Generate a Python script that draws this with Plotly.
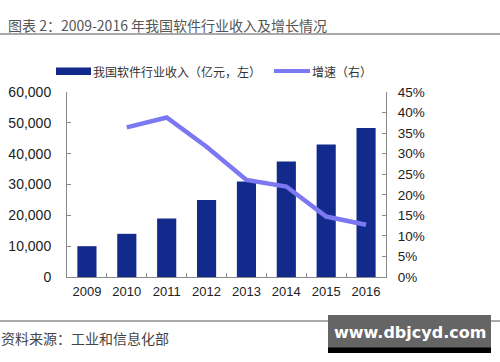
import plotly.graph_objects as go

years = ["2009", "2010", "2011", "2012", "2013", "2014", "2015", "2016"]
revenue = [10000, 14000, 19000, 25000, 31000, 37500, 43000, 48300]
growth_years = ["2010", "2011", "2012", "2013", "2014", "2015", "2016"]
growth = [36.4, 38.8, 31.7, 23.6, 22.0, 14.7, 12.7]
left_ticks = [0, 10000, 20000, 30000, 40000, 50000, 60000]
left_tick_text = ["0", "10,000", "20,000", "30,000", "40,000", "50,000", "60,000"]
right_ticks = [0, 5, 10, 15, 20, 25, 30, 35, 40, 45]
right_tick_text = ["0%", "5%", "10%", "15%", "20%", "25%", "30%", "35%", "40%", "45%"]

title = "图表 2：2009-2016 年我国软件行业收入及增长情况"
legend_bar = "我国软件行业收入（亿元，左）"
legend_line = "增速（右）"
source = "资料来源：工业和信息化部"
watermark = "www.dbjcyd.com"

BAR = "#112a8c"
LINE = "#7b78f2"
AX = "#8a8a8a"
TXT = "#222222"
cjk = "Noto Sans CJK SC"
num_family = "Liberation Sans, Arial"

fig = go.Figure()
fig.add_trace(go.Bar(x=years, y=revenue, marker=dict(color=BAR, line=dict(width=0)),
                     width=0.48, yaxis="y", showlegend=False))
fig.add_trace(go.Scatter(x=growth_years, y=growth, mode="lines",
                         line=dict(color=LINE, width=4.5), yaxis="y2", showlegend=False))

W, H = 500, 362
L, R, T, B = 67, 386, 92, 277

fig.update_layout(
    width=W, height=H,
    margin=dict(l=L, r=W - R, t=T, b=H - B, pad=0, autoexpand=False),
    paper_bgcolor="white", plot_bgcolor="white",
    xaxis=dict(type="category", range=[-0.5, 7.5], showline=True, linecolor=AX, linewidth=1,
               ticks="inside", tickson="boundaries", ticklen=4, tickcolor=AX,
               tickfont=dict(family=num_family, size=13, color=TXT), automargin=False,
               showgrid=False, zeroline=False, ticklabelstandoff=2),
    yaxis=dict(range=[0, 60000], tickvals=left_ticks, ticktext=left_tick_text,
               showline=True, linecolor=AX, linewidth=1, ticks="inside", ticklen=4,
               tickcolor=AX, tickfont=dict(family=num_family, size=14, color=TXT),
               automargin=False, showgrid=False, zeroline=False, ticklabelstandoff=12),
    yaxis2=dict(range=[0, 45], tickvals=right_ticks, ticktext=right_tick_text,
                overlaying="y", side="right", showline=True, linecolor=AX, linewidth=1,
                ticks="inside", ticklen=4, tickcolor=AX, automargin=False,
                tickfont=dict(family=num_family, size=13.5, color=TXT),
                showgrid=False, zeroline=False, ticklabelstandoff=8),
)

shapes = []

def fx(x):
    return (x - L) / (R - L)

def fy(y):
    return (B - y) / (B - T)

def add_rect(x0, y0, x1, y1, color):
    shapes.append(dict(type="rect", xref="paper", yref="paper",
                       x0=fx(x0), x1=fx(x1), y0=fy(y1), y1=fy(y0),
                       fillcolor=color, line=dict(width=0), layer="above"))

def add_hline(x0, x1, y, color, width):
    shapes.append(dict(type="line", xref="paper", yref="paper",
                       x0=fx(x0), x1=fx(x1), y0=fy(y), y1=fy(y),
                       line=dict(color=color, width=width), layer="above"))

add_hline(0, 500, 34, "#8c8c8c", 1.5)
add_hline(0, 500, 321, "#8c8c8c", 1.5)
add_rect(56, 67.5, 91, 75, BAR)
add_hline(274, 310, 71, LINE, 4)
add_rect(328, 315, 491, 348, "#656565")
add_rect(328, 347.5, 491, 353, "#000000")
fig.update_layout(shapes=shapes)

def ann(text, x, y, size, color, family, xanchor="left", bold=False):
    fig.add_annotation(text=("<b>%s</b>" % text) if bold else text,
                       xref="paper", yref="paper", x=fx(x), y=fy(y),
                       xanchor=xanchor, yanchor="middle", showarrow=False,
                       borderpad=0,
                       font=dict(size=size, color=color, family=family))

ann(title, 7, 25, 14, "#555555", cjk)
ann(legend_bar, 92, 71, 12, "#333333", cjk)
ann(legend_line, 311, 71, 12, "#333333", cjk)
ann(source, 0, 338, 14, "#444444", cjk)
ann(watermark, 409.5, 332, 16, "#ffffff", "DejaVu Sans", xanchor="center", bold=True)

fig.write_html("out.html", config={"displayModeBar": False},
               post_script="document.body.style.margin='0px';")
